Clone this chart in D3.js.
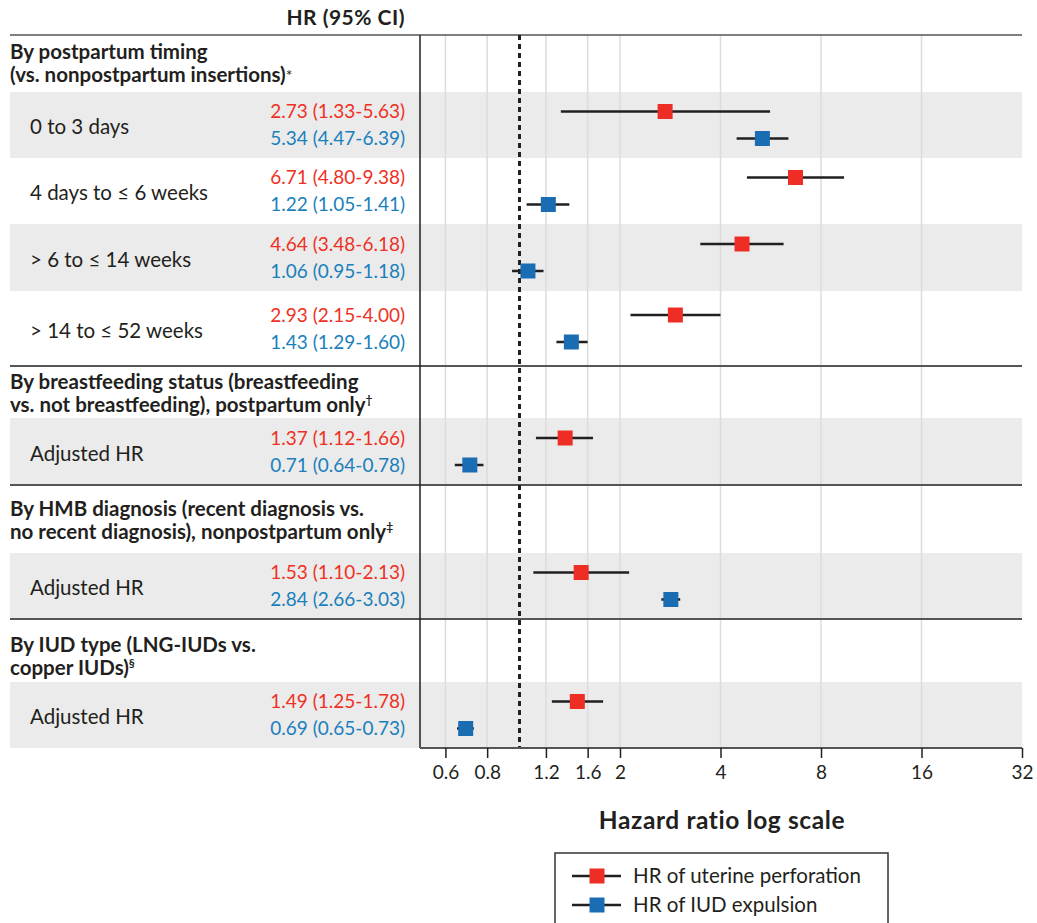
<!DOCTYPE html>
<html>
<head>
<meta charset="utf-8">
<script src="https://cdn.jsdelivr.net/npm/d3@7"></script>
<style>
  body { margin: 0; background: #fff; }
  svg text { font-family: Lato, "Open Sans", sans-serif; fill: #231f20; }
</style>
</head>
<body>
<div id="chart"></div>
<script>
// group headings (each is two lines) and their footnote marks
const groupTitles = [
    ["By postpartum timing", "(vs. nonpostpartum insertions)"],
    ["By breastfeeding status (breastfeeding", "vs. not breastfeeding), postpartum only"],
    ["By HMB diagnosis (recent diagnosis vs.", "no recent diagnosis), nonpostpartum only"],
    ["By IUD type (LNG-IUDs vs.", "copper IUDs)"]
]
const groupMarks = ["*", "\u2020", "\u2021", "\u00a7"]

const rowLabels = ["0 to 3 days", "4 days to \u2264 6 weeks", "> 6 to \u2264 14 weeks", "> 14 to \u2264 52 weeks",
    "Adjusted HR", "Adjusted HR", "Adjusted HR"]

// uterine perforation
const perfHR = [2.73, 6.71, 4.64, 2.93, 1.37, 1.53, 1.49]
const perfLo = [1.33, 4.80, 3.48, 2.15, 1.12, 1.10, 1.25]
const perfHi = [5.63, 9.38, 6.18, 4.00, 1.66, 2.13, 1.78]

// IUD expulsion
const expHR = [5.34, 1.22, 1.06, 1.43, 0.71, 2.84, 0.69]
const expLo = [4.47, 1.05, 0.95, 1.29, 0.64, 2.66, 0.65]
const expHi = [6.39, 1.41, 1.18, 1.60, 0.78, 3.03, 0.73]

const tickValues = [0.6, 0.8, 1.2, 1.6, 2, 4, 8, 16, 32]
const tickLabels = ["0.6", "0.8", "1.2", "1.6", "2", "4", "8", "16", "32"]
const seriesNames = ["HR of uterine perforation", "HR of IUD expulsion"]

// layout (pixels)
const width = 1037, height = 923
const plotLeft = 10, plotRight = 1022, plotTop = 35, plotBottom = 748
const textRight = 405
const groupTitleY = [52, 382, 509, 645]
const groupLineY = [366, 485, 619]
const rowBands = [[92, 158], [158, 224], [224, 291], [291, 366], [418, 485], [553, 619], [682, 748]]
const red = "#ee2e24", blue = "#1a6db3", redText = "#ee3124", blueText = "#1a7fbb"

const fmt = d3.format(".2f")

const svg = d3.select("#chart")
    .append("svg")
    .attr("width", width)
    .attr("height", height)

const x = d3.scaleLog()
    .base(2)
    .domain([0.5, 32])
    .range([419, 1022])

// grey bands on every other row inside a group
const bandShade = [true, false, true, false, true, true, true]
svg.selectAll(".band")
    .data(rowBands)
    .enter()
    .append("rect")
    .attr("x", plotLeft)
    .attr("y", d => d[0])
    .attr("width", plotRight - plotLeft)
    .attr("height", d => d[1] - d[0])
    .attr("fill", (d, i) => bandShade[i] ? "#ebebeb" : "#fff")

// vertical grid
svg.selectAll(".grid")
    .data(tickValues.slice(0, -1))
    .enter()
    .append("line")
    .attr("x1", d => x(d))
    .attr("x2", d => x(d))
    .attr("y1", plotTop)
    .attr("y2", plotBottom)
    .attr("stroke", "#dcdcdc")
    .attr("stroke-width", 1.5)

// header
svg.append("text")
    .attr("x", textRight)
    .attr("y", 25)
    .attr("text-anchor", "end")
    .attr("font-size", 21)
    .attr("font-weight", 700)
    .attr("letter-spacing", 0.5)
    .text("HR (95% CI)")

svg.append("line")
    .attr("x1", plotLeft).attr("x2", plotRight)
    .attr("y1", plotTop).attr("y2", plotTop)
    .attr("stroke", "#555").attr("stroke-width", 1.5)

svg.selectAll(".sep")
    .data(groupLineY)
    .enter()
    .append("line")
    .attr("x1", plotLeft).attr("x2", plotRight)
    .attr("y1", d => d).attr("y2", d => d)
    .attr("stroke", "#555").attr("stroke-width", 2)

// group titles
groupTitles.forEach((lines, g) => {
    lines.forEach((line, i) => {
        const t = svg.append("text")
            .attr("x", plotLeft)
            .attr("y", groupTitleY[g] + i * 23)
            .attr("dy", "0.35em")
            .attr("font-size", 20.5)
            .attr("font-weight", 700)
            .text(line)
        if (i === lines.length - 1) {
            const star = groupMarks[g] === "*"
            t.append("tspan")
                .attr("font-size", star ? 16 : 12)
                .attr("font-weight", star ? 400 : 700)
                .attr("dy", star ? "-0.1em" : "-0.7em")
                .text(groupMarks[g])
        }
    })
})

// row labels and values
const rowMid = rowBands.map(d => (d[0] + d[1]) / 2)

svg.selectAll(".rowlabel")
    .data(rowLabels)
    .enter()
    .append("text")
    .attr("x", 30)
    .attr("y", (d, i) => rowMid[i] + 2)
    .attr("dy", "0.35em")
    .attr("font-size", 20.5)
    .text(d => d)

const series = [
    {hr: perfHR, lo: perfLo, hi: perfHi, color: red, textColor: redText, off: -13.5},
    {hr: expHR, lo: expLo, hi: expHi, color: blue, textColor: blueText, off: 13.5}
]

series.forEach(s => {
    const rows = s.hr.map((v, i) => ({v, lo: s.lo[i], hi: s.hi[i], y: rowMid[i] + s.off}))

    svg.selectAll(null)
        .data(rows)
        .enter()
        .append("text")
        .attr("x", textRight)
        .attr("y", d => d.y)
        .attr("dy", "0.35em")
        .attr("text-anchor", "end")
        .attr("font-size", 19)
        .style("fill", s.textColor)
        .text(d => `${fmt(d.v)} (${fmt(d.lo)}-${fmt(d.hi)})`)
})

// left border and null line
svg.append("line")
    .attr("x1", x(0.5) + 1).attr("x2", x(0.5) + 1)
    .attr("y1", plotTop).attr("y2", plotBottom)
    .attr("stroke", "#231f20").attr("stroke-width", 1.5)

svg.append("line")
    .attr("x1", x(1)).attr("x2", x(1))
    .attr("y1", plotTop).attr("y2", plotBottom)
    .attr("stroke", "#231f20").attr("stroke-width", 3)
    .attr("stroke-dasharray", "5,4")

// CI whiskers and squares
const sq = 15
series.forEach(s => {
    const rows = s.hr.map((v, i) => ({v, lo: s.lo[i], hi: s.hi[i], y: rowMid[i] + s.off}))
    const g = svg.append("g")
    g.selectAll("line")
        .data(rows)
        .enter()
        .append("line")
        .attr("x1", d => x(d.lo))
        .attr("x2", d => x(d.hi))
        .attr("y1", d => d.y)
        .attr("y2", d => d.y)
        .attr("stroke", "#231f20")
        .attr("stroke-width", 2.5)
    g.selectAll("rect")
        .data(rows)
        .enter()
        .append("rect")
        .attr("x", d => x(d.v) - sq / 2)
        .attr("y", d => d.y - sq / 2)
        .attr("width", sq)
        .attr("height", sq)
        .attr("fill", s.color)
})

// x axis
const axis = svg.append("g")
    .attr("transform", `translate(0,${plotBottom})`)
    .call(d3.axisBottom(x)
        .tickValues(tickValues)
        .tickFormat((d, i) => tickLabels[i])
        .tickSize(10)
        .tickPadding(8))
axis.select(".domain")
    .attr("d", `M${x(0.5) + 1},0H${plotRight}`)
    .attr("stroke", "#555").attr("stroke-width", 2)
axis.selectAll(".tick line").attr("stroke", "#231f20").attr("stroke-width", 1.5)
axis.selectAll(".tick text")
    .attr("font-size", 19)
    .attr("font-family", "Lato, sans-serif")
    .style("fill", "#231f20")

svg.append("text")
    .attr("x", 722)
    .attr("y", 829)
    .attr("text-anchor", "middle")
    .attr("font-size", 24.5)
    .attr("font-weight", 700)
    .attr("letter-spacing", 0.6)
    .text("Hazard ratio log scale")

// legend
const legend = svg.append("g").attr("transform", "translate(555,853)")
legend.append("rect")
    .attr("width", 333)
    .attr("height", 90)
    .attr("fill", "#fff")
    .attr("stroke", "#333")
    .attr("stroke-width", 1.5)

const items = legend.selectAll(".item")
    .data(seriesNames)
    .enter()
    .append("g")
    .attr("transform", (d, i) => `translate(0,${23 + i * 29})`)
items.append("line")
    .attr("x1", 17).attr("x2", 66)
    .attr("stroke", "#231f20").attr("stroke-width", 2.5)
items.append("rect")
    .attr("x", 42 - sq / 2).attr("y", -sq / 2)
    .attr("width", sq).attr("height", sq)
    .attr("fill", (d, i) => series[i].color)
items.append("text")
    .attr("x", 78)
    .attr("dy", "0.35em")
    .attr("font-size", 20.5)
    .text(d => d)
</script>
</body>
</html>
